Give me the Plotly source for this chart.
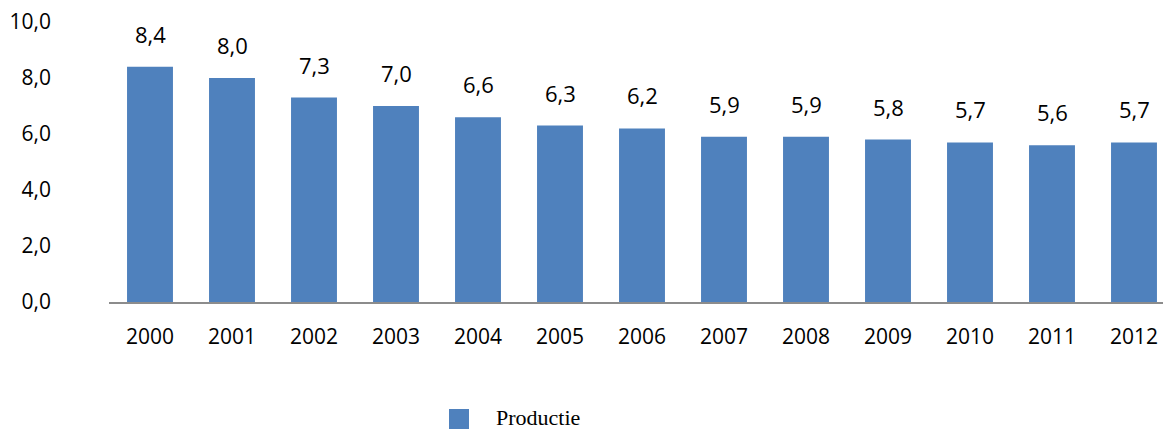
import plotly.graph_objects as go

# Production per year
years = ["2000", "2001", "2002", "2003", "2004", "2005", "2006",
         "2007", "2008", "2009", "2010", "2011", "2012"]
productie = [8.4, 8.0, 7.3, 7.0, 6.6, 6.3, 6.2, 5.9, 5.9, 5.8, 5.7, 5.6, 5.7]
y_ticks = [0, 2, 4, 6, 8, 10]
y_tick_text = ["0,0", "2,0", "4,0", "6,0", "8,0", "10,0"]

BAR_COLOR = "#4F81BD"
FONT = "Open Sans"

W, H = 1163, 434
L, R, T, B = 109, 0, 22, 132
plot_w = W - L - R
plot_h = H - T - B


def px_to_paper(x, y):
    return (x - L) / plot_w, (H - B - y) / plot_h


fig = go.Figure()
fig.add_trace(go.Bar(
    x=list(range(len(years))),
    y=productie,
    width=0.56,
    marker=dict(color=BAR_COLOR, line=dict(width=0)),
    name="Productie",
    showlegend=False,
    hoverinfo="skip",
))

# value labels above each bar
for i, v in enumerate(productie):
    fig.add_annotation(
        x=i, y=v, xref="x", yref="y",
        text=f"{v:.1f}".replace(".", ","),
        showarrow=False, yanchor="middle", yshift=33,
        font=dict(family=FONT, size=22, color="#000000"),
    )

# legend entry drawn in the lower band
x0, y0 = px_to_paper(449, 429)
x1, y1 = px_to_paper(469, 409)
fig.add_shape(type="rect", xref="paper", yref="paper",
              x0=x0, y0=y0, x1=x1, y1=y1,
              fillcolor=BAR_COLOR, line=dict(width=0))
tx, ty = px_to_paper(494, 432)
fig.add_annotation(
    x=tx, y=ty, xref="paper", yref="paper",
    text="Productie", showarrow=False,
    xanchor="left", yanchor="bottom",
    font=dict(family="Liberation Serif", size=22, color="#000000"),
)

fig.update_layout(
    width=W, height=H,
    margin=dict(l=L, r=R, t=T, b=B, pad=0),
    paper_bgcolor="white", plot_bgcolor="white",
    bargap=0.44,
    xaxis=dict(
        range=[-0.5, (W - L) / 82 - 0.5],
        tickmode="array",
        tickvals=list(range(len(years))),
        ticktext=years,
        showgrid=False, zeroline=False,
        showline=True, linecolor="#8C8C8C", linewidth=2,
        ticks="", ticklabelstandoff=15,
        tickfont=dict(family=FONT, size=21, color="#000000"),
    ),
    yaxis=dict(
        range=[0, 10],
        tickmode="array",
        tickvals=y_ticks,
        ticktext=y_tick_text,
        showgrid=False, zeroline=False, showline=False,
        ticks="", ticklabelstandoff=57,
        tickfont=dict(family=FONT, size=21, color="#000000"),
    ),
)

fig.write_html("out.html")
